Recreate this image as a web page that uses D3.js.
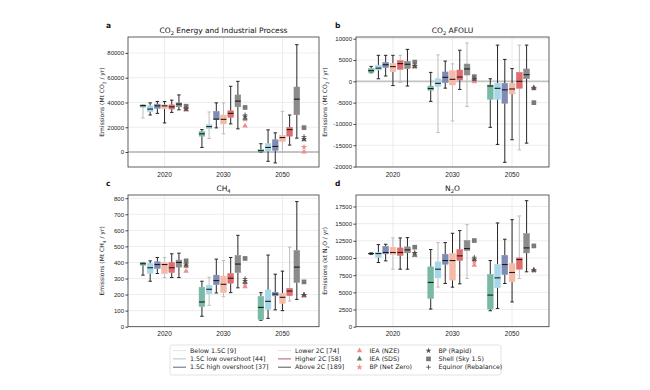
<!DOCTYPE html>
<html><head><meta charset="utf-8">
<script src="https://cdn.jsdelivr.net/npm/d3@7"></script>
<style>body{margin:0;background:#fff}svg{font-family:"DejaVu Sans",sans-serif}</style>
</head><body><svg id="c" width="650" height="390"></svg>
<script>
// ---------- DATA ----------
const years = ["2020", "2030", "2050"];
const categories = ["Below 1.5C [9]", "1.5C low overshoot [44]", "1.5C high overshoot [37]",
  "Lower 2C [74]", "Higher 2C [58]", "Above 2C [189]"];
const sources = ["IEA (NZE)", "IEA (SDS)", "BP (Net Zero)", "BP (Rapid)", "Shell (Sky 1.5)", "Equinor (Rebalance)"];

// box stats: [year][category] = [whiskerLow, q1, median, q3, whiskerHigh]
const co2EipStats = [
  [[27500,36300,37500,38000,38200],[29900,32500,34700,37300,39700],[31200,35200,37300,38700,40800],
   [23500,35200,37300,38100,40800],[32000,34700,36500,38100,41900],[34100,36500,38700,39700,46100]],
  [[3700,12800,14700,16500,18100],[10900,18700,20500,22100,32300],[19500,26100,26600,32800,39700],
   [14700,22700,26400,29900,39700],[22700,28000,31200,33300,53100],[18700,36500,41100,46100,57100]],
  [[0,300,1100,1900,6700],[-7500,800,3700,6700,17900],[-8800,1300,4500,9900,15500],
   [0,8500,11700,13600,32800],[5600,12800,18100,20000,29900],[11200,30100,42700,52500,86700]]
];
const co2AfoluStats = [
  [[2000,2100,2500,2970,3500],[600,2650,3100,3800,6100],[1250,3200,3900,4450,6100],
   [-1000,2250,3450,4200,6100],[-250,2800,4150,4850,6100],[-1100,3000,4000,4700,7500]],
  [[-4700,-2100,-1700,-1100,2100],[-12000,-1250,-470,600,6200],[-1600,-300,940,2200,4750],
   [-9300,-860,470,2500,4100],[-1900,300,1000,2650,7300],[-5900,1480,2900,4060,9000]],
  [[-10800,-4200,-1100,-860,600],[-14800,-4200,-1640,-470,8500],[-19000,-5150,-2000,-470,5150],
   [-13700,-2970,-1800,-470,3000],[-16100,-1640,0,2100,8500],[-14500,600,1560,2900,8500]]
];
const ch4Stats = [
  [[321,383,392,400,400],[283,333,367,392,410],[331,362,387,404,431],
   [306,331,387,400,431],[306,337,367,400,454],[306,371,400,415,458]],
  [[65,125,154,246,283],[133,204,233,258,308],[210,262,287,321,421],
   [187,212,264,315,412],[212,271,302,331,431],[242,337,390,444,569]],
  [[40,45,120,188,212],[52,108,158,229,446],[105,192,203,215,327],
   [100,146,183,208,346],[160,193,222,239,495],[170,275,371,475,779]]
];
const n2oStats = [
  [[10500,10600,10650,10700,10750],[9340,10100,10650,10800,11950],[9580,10600,10800,11700,12000],
   [8370,10500,10800,11570,12920],[8370,10360,10800,11470,12920],[8370,10750,11180,11620,12970]],
  [[2570,4110,6440,8710,11230],[5760,7110,8370,9440,12240],[6290,9100,9630,10550,12240],
   [5760,6780,9630,10650,13600],[6240,9630,10310,11230,13990],[7020,11080,11370,12540,14860]],
  [[2320,2570,4600,7600,9630],[2660,5660,7110,9050,15100],[6290,7600,9050,10400,12730],
   [3600,6530,7890,9200,15580],[7000,8370,9780,10020,16120],[7990,10740,11470,13550,18340]]
];

// external scenarios: [year][source]
const co2EipMarkers = [[34000,34500,34500,35000,37000,35500],[21000,27000,26500,28500,36000,30000],[0,10000,4000,10500,19700,12500]];
const co2AfoluMarkers = [[3400,3500,3500,3600,4500,3700],[-100,450,300,500,1100,600],[-1500,-1600,-1500,-1600,-5000,-1550]];
const ch4Markers = [[346,379,378,387,410,380],[250,275,267,285,425,300],[192,196,195,198,279,200]];
const n2oMarkers = [[10400,10400,10450,10750,11570,10750],[8950,9780,9500,9800,12540,10120],[8230,8230,8230,8230,11760,8230]];

// tick values
const co2EipTicks = [0, 20000, 40000, 60000, 80000];
const co2AfoluTicks = [-20000, -15000, -10000, -5000, 0, 5000, 10000];
const ch4Ticks = [0, 100, 200, 300, 400, 500, 600, 700, 800];
const n2oTicks = [0, 2500, 5000, 7500, 10000, 12500, 15000, 17500];

// ---------- STYLE ----------
const catColors = ["#79b9a5", "#a6d6e8", "#7f8bb4", "#f5baa6", "#e06c6e", "#8b8b8b"];
const legendLineColors = ["#d9ece6", "#a9c7d6", "#5d6588", "#f3dcd5", "#b0566a", "#555"];
const srcStyle = [
  {sym: d3.symbolTriangle, fill: "#f28b8b", size: 13},
  {sym: d3.symbolTriangle, fill: "#5c7d6d", size: 13},
  {sym: d3.symbolStar, fill: "#f28b8b", size: 13},
  {sym: d3.symbolStar, fill: "#5a4a4a", size: 11},
  {sym: d3.symbolSquare, fill: "#7a7a7a", size: 22},
  {sym: "plus", fill: "#444", size: 16}
];
// whiskers drawn faint: [yearIndex, categoryIndex]
const faintWhiskers = {
  a: [[0,0],[1,1],[1,3],[2,3]],
  b: [[0,4],[1,1],[1,3],[1,5],[2,4]],
  c: [[0,3],[1,1],[1,3],[2,4]],
  d: [[0,3],[1,1],[1,5],[2,4]]
};

const svg = d3.select("#c");

function fmt(v){ return String(v); }

function panel(o){
  const g = svg.append("g");
  const {x0, x1, y0, y1} = o;
  const y = d3.scaleLinear().domain(o.domain).range([y1, y0]);
  const xb = d3.scaleBand().domain(years).range([x0, x1]).paddingInner(0).paddingOuter(0.12);
  const xs = d3.scaleBand().domain(d3.range(7)).range([0, xb.bandwidth()]).paddingInner(0).paddingOuter(0.6);

  // grid
  g.selectAll(".hg").data(o.ticks).join("line")
    .attr("x1", x0).attr("x2", x1).attr("y1", d => y(d)).attr("y2", d => y(d))
    .attr("stroke", "#e8e8e8").attr("stroke-width", 0.8);
  g.selectAll(".vg").data(years).join("line")
    .attr("x1", d => xb(d) + xb.bandwidth()/2).attr("x2", d => xb(d) + xb.bandwidth()/2)
    .attr("y1", y0).attr("y2", y1).attr("stroke", "#e8e8e8").attr("stroke-width", 0.8);
  if (o.zeroLine) {
    g.append("line").attr("x1", x0).attr("x2", x1).attr("y1", y(0)).attr("y2", y(0))
      .attr("stroke", "#c4c4c4").attr("stroke-width", 1.8);
  }

  // axes
  const ya = d3.axisLeft(y).tickValues(o.ticks).tickSize(2.5).tickFormat(fmt);
  const yg = g.append("g").attr("transform", `translate(${x0},0)`).call(ya);
  yg.select(".domain").remove();
  yg.selectAll("line").attr("stroke", "#444");
  yg.selectAll("text").attr("font-size", 6).attr("fill", "#222").attr("x", -4);
  const xa = d3.axisBottom(xb).tickSize(0).tickPadding(5);
  const xg = g.append("g").attr("transform", `translate(0,${y1})`).call(xa);
  xg.select(".domain").remove();
  xg.selectAll("text").attr("font-size", 6.5).attr("fill", "#222");

  // boxes
  const faint = faintWhiskers[o.key].map(d => d.join("-"));
  const bw = xs.bandwidth() * 0.8;
  o.stats.forEach((row, yi) => {
    row.forEach((s, ci) => {
      const cx = xb(years[yi]) + xs(ci) + xs.bandwidth()/2;
      const wc = faint.includes(yi + "-" + ci) ? "#bdbdbd" : "#262626";
      const bg = g.append("g");
      bg.append("line").attr("x1", cx).attr("x2", cx).attr("y1", y(s[0])).attr("y2", y(s[1]))
        .attr("stroke", wc).attr("stroke-width", 1);
      bg.append("line").attr("x1", cx).attr("x2", cx).attr("y1", y(s[3])).attr("y2", y(s[4]))
        .attr("stroke", wc).attr("stroke-width", 1);
      [s[0], s[4]].forEach(v => bg.append("line").attr("x1", cx - bw*0.3).attr("x2", cx + bw*0.3)
        .attr("y1", y(v)).attr("y2", y(v)).attr("stroke", wc).attr("stroke-width", 1));
      bg.append("rect").attr("x", cx - bw/2).attr("width", bw)
        .attr("y", y(s[3])).attr("height", Math.max(0.8, y(s[1]) - y(s[3])))
        .attr("fill", catColors[ci]).attr("stroke", catColors[ci]).attr("stroke-width", 0.5);
      bg.append("line").attr("x1", cx - bw/2).attr("x2", cx + bw/2).attr("y1", y(s[2])).attr("y2", y(s[2]))
        .attr("stroke", "#1a1a1a").attr("stroke-width", 1.1);
    });
  });

  // external markers (7th slot)
  o.markers.forEach((row, yi) => {
    const cx = xb(years[yi]) + xs(6) + xs.bandwidth()/2;
    const order = [4, 5, 0, 2, 1, 3];
    order.forEach(si => drawMarker(g, cx, y(row[si]), srcStyle[si]));
  });

  // frame
  g.append("rect").attr("x", x0).attr("y", y0).attr("width", x1 - x0).attr("height", y1 - y0)
    .attr("fill", "none").attr("stroke", "#3a3a3a").attr("stroke-width", 0.8);

  // title
  const t = g.append("text").attr("x", (x0 + x1)/2).attr("y", y0 - 4).attr("text-anchor", "middle")
    .attr("font-size", 7.5).attr("fill", "#111");
  o.title.forEach(p => t.append("tspan").text(p.t).attr("font-size", p.sub ? 5.2 : 7.5)
    .attr("dy", p.sub ? 1.8 : (p.after ? -1.8 : 0)));
  // letter
  svg.append("text").attr("x", o.lx).attr("y", y0 - 9).attr("font-size", 7.5).attr("font-weight", "bold")
    .attr("fill", "#111").text(o.key);
  // y label
  const yl = svg.append("text").attr("transform", `translate(${o.ylx},${(y0+y1)/2}) rotate(-90)`)
    .attr("text-anchor", "middle").attr("font-size", 6).attr("fill", "#222");
  o.ylabel.forEach(p => yl.append("tspan").text(p.t).attr("font-size", p.sub ? 4.3 : 6)
    .attr("dy", p.sub ? 1.5 : (p.after ? -1.5 : 0)));
}

function drawMarker(g, x, y, st){
  if (st.sym === "plus") {
    g.append("path").attr("d", `M${x-2.3},${y}H${x+2.3}M${x},${y-2.3}V${y+2.3}`)
      .attr("stroke", st.fill).attr("stroke-width", 0.8);
  } else {
    g.append("path").attr("d", d3.symbol(st.sym, st.size)()).attr("transform", `translate(${x},${y})`)
      .attr("fill", st.fill);
  }
}

panel({key: "a", x0: 128, x1: 319, y0: 37, y1: 167, domain: [-12100, 92900], ticks: co2EipTicks,
  stats: co2EipStats, markers: co2EipMarkers, zeroLine: true, lx: 106, ylx: 104,
  title: [{t: "CO"}, {t: "2", sub: true}, {t: " Energy and Industrial Process", after: true}],
  ylabel: [{t: "Emissions (Mt CO"}, {t: "2", sub: true}, {t: " / yr)", after: true}]});
panel({key: "b", x0: 356, x1: 549, y0: 37, y1: 167, domain: [-20100, 10400], ticks: co2AfoluTicks,
  stats: co2AfoluStats, markers: co2AfoluMarkers, zeroLine: true, lx: 335, ylx: 327,
  title: [{t: "CO"}, {t: "2", sub: true}, {t: " AFOLU", after: true}],
  ylabel: [{t: "Emissions (Mt CO"}, {t: "2", sub: true}, {t: " / yr)", after: true}]});
panel({key: "c", x0: 128, x1: 319, y0: 195, y1: 326.7, domain: [0, 820], ticks: ch4Ticks,
  stats: ch4Stats, markers: ch4Markers, zeroLine: false, lx: 106, ylx: 104,
  title: [{t: "CH"}, {t: "4", sub: true}],
  ylabel: [{t: "Emissions (Mt CH"}, {t: "4", sub: true}, {t: " / yr)", after: true}]});
panel({key: "d", x0: 356, x1: 549, y0: 195, y1: 326.7, domain: [0, 19170], ticks: n2oTicks,
  stats: n2oStats, markers: n2oMarkers, zeroLine: false, lx: 335, ylx: 327,
  title: [{t: "N"}, {t: "2", sub: true}, {t: "O", after: true}],
  ylabel: [{t: "Emissions (kt N"}, {t: "2", sub: true}, {t: "O / yr)", after: true}]});

// ---------- LEGEND ----------
const lg = svg.append("g");
lg.append("rect").attr("x", 170).attr("y", 345).attr("width", 331).attr("height", 30).attr("rx", 2)
  .attr("fill", "#fff").attr("stroke", "#dcdcdc").attr("stroke-width", 0.8);
const rowY = [350.6, 358.9, 367.2];
categories.forEach((c, i) => {
  const col = Math.floor(i / 3), r = i % 3;
  const lx = col === 0 ? 173 : 278;
  lg.append("line").attr("x1", lx).attr("x2", lx + 13).attr("y1", rowY[r]).attr("y2", rowY[r])
    .attr("stroke", legendLineColors[i]).attr("stroke-width", 1);
  lg.append("text").attr("x", lx + 17).attr("y", rowY[r] + 2.2).attr("font-size", 6.3).attr("fill", "#222").text(c);
});
sources.forEach((s, i) => {
  const col = Math.floor(i / 3), r = i % 3;
  const mx = col === 0 ? 359.5 : 428.5;
  drawMarker(lg, mx, rowY[r], srcStyle[i]);
  lg.append("text").attr("x", mx + 10).attr("y", rowY[r] + 2.2).attr("font-size", 6.3).attr("fill", "#222").text(s);
});
</script></body></html>
